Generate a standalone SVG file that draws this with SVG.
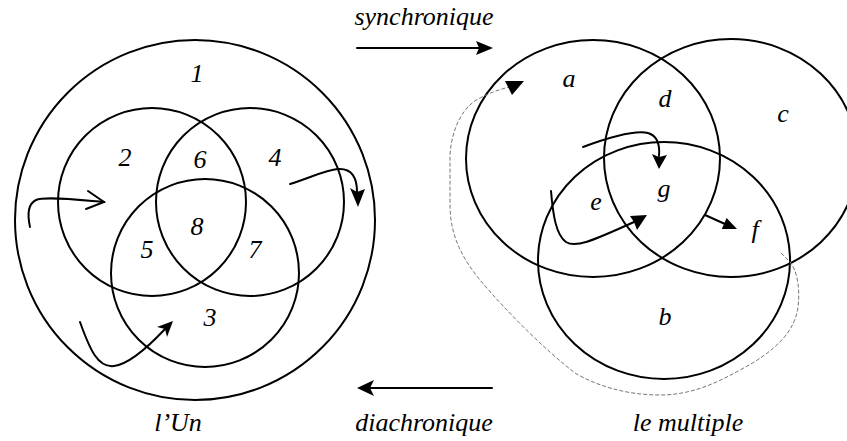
<svg xmlns="http://www.w3.org/2000/svg" width="847" height="441" viewBox="0 0 847 441">
<style>
.c{fill:none;stroke:#000;stroke-width:2}
.a{fill:none;stroke:#000;stroke-width:2;stroke-linecap:round}
.h{fill:#000;stroke:none}
.d{fill:none;stroke:#777;stroke-width:1;stroke-dasharray:4 2}
.t{font-family:"Liberation Serif","Times New Roman",serif;font-style:italic;font-size:26px;fill:#000;text-anchor:middle}
</style>
<rect width="847" height="441" fill="#fff"/>
<g id="un">
<circle class="c" cx="195" cy="220" r="180"/>
<text class="t" x="197" y="82">1</text>
</g>
<g id="c2"><circle class="c" cx="152" cy="202" r="94"/><text class="t" x="125" y="166">2</text></g>
<g id="c4"><circle class="c" cx="250" cy="202" r="94"/><text class="t" x="275" y="166">4</text></g>
<g id="c3"><circle class="c" cx="205" cy="273" r="94"/><text class="t" x="210" y="326">3</text></g>
<g id="r6"><text class="t" x="200" y="168">6</text></g>
<g id="r8"><text class="t" x="197" y="235">8</text></g>
<g id="r5"><text class="t" x="147" y="258">5</text></g>
<g id="r7"><text class="t" x="255" y="258">7</text></g>
<g id="ca"><ellipse class="c" cx="593" cy="158.5" rx="127" ry="118.5"/><text class="t" x="569" y="87">a</text></g>
<g id="cc"><ellipse class="c" cx="731" cy="158" rx="127" ry="119"/><text class="t" x="783" y="122">c</text></g>
<g id="cb"><ellipse class="c" cx="664" cy="260.5" rx="126" ry="118.5"/><text class="t" x="665" y="325">b</text></g>
<g id="rd"><text class="t" x="665" y="107">d</text></g>
<g id="re"><text class="t" x="596" y="210">e</text></g>
<g id="rg"><text class="t" x="664" y="197">g</text></g>
<g id="rf"><text class="t" x="755" y="238">f</text></g>
<g id="labels">
<text class="t" x="424" y="25">synchronique</text>
<text class="t" x="424" y="431">diachronique</text>
<text class="t" x="178" y="431">l’Un</text>
<text class="t" x="688" y="431">le multiple</text>
</g>
<g id="connectors">
<line class="a" x1="357" y1="48" x2="480" y2="48"/>
<polygon class="h" points="493,48 476,41 479,48 476,55"/>
<line class="a" x1="492" y1="388" x2="370" y2="388"/>
<polygon class="h" points="357,388 374,380 370,388 374,396"/>
<path class="a" d="M30,227 C28,218 26,205 36,200 C45,196 80,200 104,202"/>
<path class="a" d="M88,191 L104,202 L86,209"/>
<path class="a" d="M290,184 C310,178 325,170 338,169 C352,168 357,178 357,192"/>
<polygon class="h" points="358,207 350,188 357,192 365,189"/>
<path class="a" d="M80,322 C90,350 98,368 114,366 C130,364 150,345 165,329"/>
<polygon class="h" points="173,321 157,327 165,329 167,337"/>
<path class="a" d="M583,147 C610,137 635,130 648,133 C658,136 660,145 659,156"/>
<polygon class="h" points="659,169 652,154 659,157 667,155"/>
<path class="a" d="M551,191 C553,215 556,235 566,242 C575,248 590,242 634,222"/>
<polygon class="h" points="647,215 630,216 634,222 637,230"/>
<path class="a" d="M705,215 L725,224"/>
<polygon class="h" points="737,229 726.6,217.9 724,224 721.8,228.9"/>
<path class="d" d="M781,253 L790,262 C798,272 800,290 798,307 C795,330 778,350 740,370 C715,384 690,395 660,395 C625,395 595,385 575,373 C545,350 505,310 480,280 C462,258 450,235 450,205 L450,155 C452,125 465,105 480,98 C490,93 500,89 510,87"/>
<polygon fill="#000" points="524,81 505,81 512,95"/>
</g>
</svg>
